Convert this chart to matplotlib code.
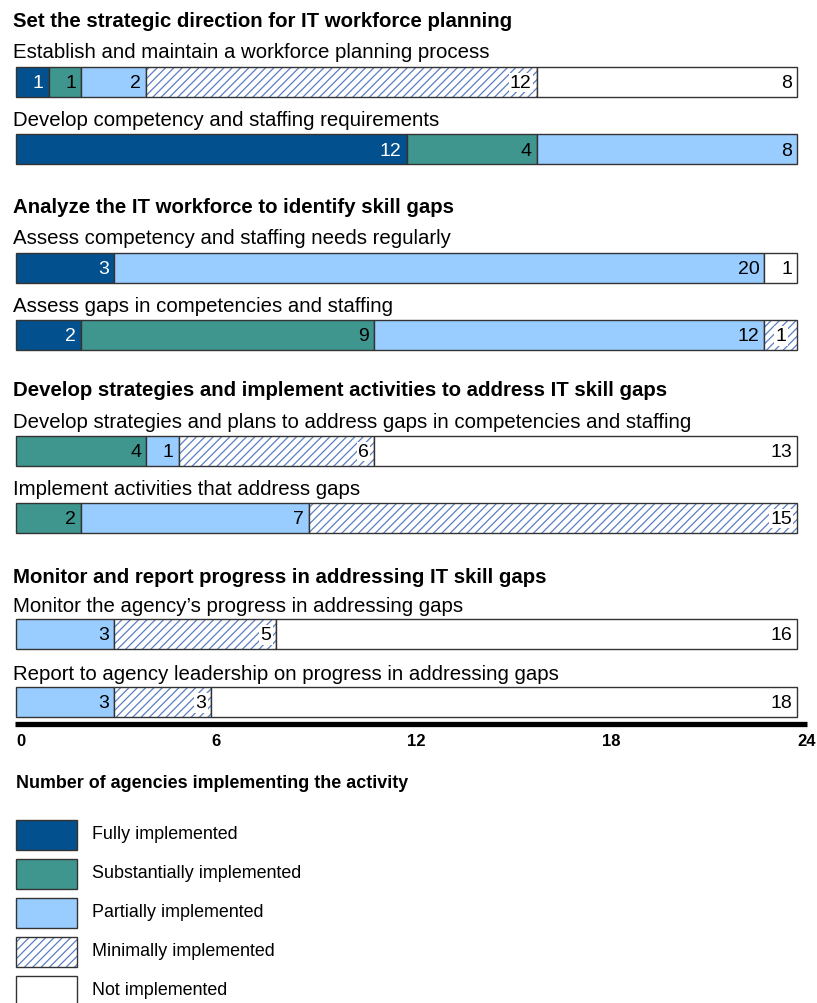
import matplotlib
matplotlib.use("Agg")
import matplotlib.pyplot as plt
from matplotlib.patches import Rectangle
from matplotlib import font_manager

plt.rcParams['font.family'] = ['Liberation Sans', 'DejaVu Sans']
plt.rcParams['hatch.linewidth'] = 0.9

# Implementation categories
categories = ["Fully implemented", "Substantially implemented", "Partially implemented",
              "Minimally implemented", "Not implemented"]
colors = ["#03508e", "#3f968e", "#99ccff", "white", "white"]
hatches = [None, None, None, "////", None]
text_colors = ["white", "black", "black", "black", "black"]
hatch_color = "#5a7ec2"
edge_color = "#333333"

sections = [
    "Set the strategic direction for IT workforce planning",
    "Analyze the IT workforce to identify skill gaps",
    "Develop strategies and implement activities to address IT skill gaps",
    "Monitor and report progress in addressing IT skill gaps",
]

activities = [
    "Establish and maintain a workforce planning process",
    "Develop competency and staffing requirements",
    "Assess competency and staffing needs regularly",
    "Assess gaps in competencies and staffing",
    "Develop strategies and plans to address gaps in competencies and staffing",
    "Implement activities that address gaps",
    "Monitor the agency\u2019s progress in addressing gaps",
    "Report to agency leadership on progress in addressing gaps",
]

# Agencies per category for each activity (full, substantial, partial, minimal, not)
counts = [
    [1, 1, 2, 12, 8],
    [12, 4, 8, 0, 0],
    [3, 0, 20, 0, 1],
    [2, 9, 12, 1, 0],
    [0, 4, 1, 6, 13],
    [0, 2, 7, 15, 0],
    [0, 0, 3, 5, 16],
    [0, 0, 3, 3, 18],
]

x_ticks = [0, 6, 12, 18, 24]

# Narrow bold face for the scale numbers, when one is installed
installed = {f.name for f in font_manager.fontManager.ttflist}
tick_family = next((n for n in ["Liberation Sans Narrow", "Arial Narrow", "DejaVu Sans Condensed"]
                    if n in installed), "Liberation Sans")
tick_stretch = "normal" if tick_family != "Liberation Sans" else "condensed"

W, H = 817, 1004
fig = plt.figure(figsize=(W / 100, H / 100), dpi=100)
ax = fig.add_axes([0, 0, 1, 1])
px = 781 / 24.0  # pixels per agency
x0 = 16
ax.set_xlim(-x0 / px, (W - x0) / px)
ax.set_ylim(H, 0)
ax.axis('off')

section_y = [21.5, 207.5, 390.5, 577.5]
label_y = [52.5, 120.5, 238.5, 306.5, 422.5, 489.5, 606.5, 674.5]
bar_y = [82.5, 150, 268.5, 336, 451.5, 518.5, 635, 703]
bar_h = 30

for s, y in zip(sections, section_y):
    ax.text(-3 / px, y, s, fontsize=14.7, fontweight='bold', va='center', ha='left')

for act, ly, by, row in zip(activities, label_y, bar_y, counts):
    ax.text(-3 / px, ly, act, fontsize=14.7, va='center', ha='left')
    left = 0
    for v, c, h, tc in zip(row, colors, hatches, text_colors):
        if v == 0:
            continue
        if h is not None:
            ax.barh(by, v, left=left, height=bar_h, color=c, hatch=h,
                    edgecolor=hatch_color, linewidth=0)
            ax.barh(by, v, left=left, height=bar_h, fill=False,
                    edgecolor=edge_color, linewidth=1.0)
            box = dict(facecolor='white', edgecolor='none', pad=1.0)
        else:
            ax.barh(by, v, left=left, height=bar_h, color=c,
                    edgecolor=edge_color, linewidth=1.0)
            box = None
        if h is not None and v == 1:
            ax.text(left + v / 2, by + 1, str(v), color=tc, fontsize=14,
                    va='center', ha='center', bbox=box)
        else:
            ax.text(left + v - 5 / px, by + 1, str(v), color=tc, fontsize=14,
                    va='center', ha='right', bbox=box)
        left += v

# Scale line and tick labels
ax.plot([-1 / px, 24 + 10 / px], [725, 725], color='black', linewidth=3.8,
        solid_capstyle='butt')
for t in x_ticks:
    ax.text(t, 742, str(t), fontsize=12, fontweight='bold', va='center',
            ha='left', family=tick_family, fontstretch=tick_stretch)

ax.text(0, 784, "Number of agencies implementing the activity", fontsize=12.9,
        fontweight='bold', va='center', ha='left')

# Legend
leg_y = [836, 875, 914, 953, 992]
for cat, c, h, ly in zip(categories, colors, hatches, leg_y):
    if h is not None:
        ax.add_patch(Rectangle((0, ly - 15), 61 / px, 30, facecolor=c, hatch=h,
                               edgecolor=hatch_color, linewidth=0))
        ax.add_patch(Rectangle((0, ly - 15), 61 / px, 30, fill=False,
                               edgecolor=edge_color, linewidth=1.0))
    else:
        ax.add_patch(Rectangle((0, ly - 15), 61 / px, 30, facecolor=c,
                               edgecolor=edge_color, linewidth=1.0))
    ax.text(76 / px, ly - 1, cat, fontsize=12.9, va='center', ha='left')

fig.savefig("out.png", dpi=100)
